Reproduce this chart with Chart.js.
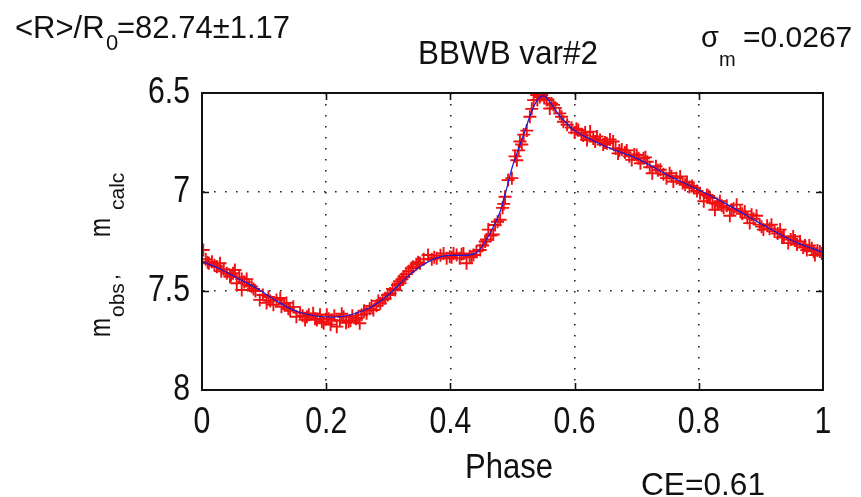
<!DOCTYPE html>
<html>
<head>
<meta charset="utf-8">
<script src="https://cdn.jsdelivr.net/npm/chart.js@4/dist/chart.umd.min.js"></script>
<style>
  html, body { margin: 0; padding: 0; background: #fff; }
  #c { display: block; }
</style>
</head>
<body>
<canvas id="c" width="861" height="497"></canvas>
<script>
// ---------------- data ----------------

// fitted light curve (blue line)
var fitPhase = [0.00, 0.03, 0.06, 0.09, 0.12, 0.15, 0.18, 0.21, 0.24, 0.27, 0.30, 0.33, 0.36, 0.38, 0.40, 0.42, 0.44,
    0.45, 0.46, 0.47, 0.48, 0.49, 0.50, 0.51, 0.52, 0.53, 0.54, 0.55, 0.56, 0.57, 0.58, 0.60, 0.62, 0.65, 0.70,
    0.75, 0.80, 0.85, 0.90, 0.95, 1.00];
var fitMag = [7.35, 7.39, 7.44, 7.49, 7.55, 7.60, 7.625, 7.632, 7.62, 7.585, 7.52, 7.43, 7.36, 7.33, 7.32, 7.32, 7.31,
    7.28, 7.23, 7.17, 7.10, 6.99, 6.87, 6.78, 6.69, 6.60, 6.535, 6.515, 6.545, 6.59, 6.63, 6.69, 6.725, 6.77, 6.83,
    6.915, 6.99, 7.07, 7.16, 7.245, 7.305];

// observed magnitudes (red crosses)
var obsPhase = [0.002, 0.006, 0.011, 0.016, 0.020, 0.024, 0.029, 0.035, 0.040, 0.045, 0.050, 0.053, 0.056, 0.060,
    0.064, 0.064, 0.068, 0.072, 0.076, 0.080, 0.086, 0.093, 0.098, 0.104, 0.110, 0.115, 0.120, 0.126, 0.128, 0.132,
    0.136, 0.142, 0.147, 0.152, 0.158, 0.162, 0.166, 0.172, 0.179, 0.182, 0.185, 0.190, 0.196, 0.201, 0.204, 0.209,
    0.213, 0.217, 0.222, 0.228, 0.232, 0.236, 0.242, 0.248, 0.254, 0.257, 0.261, 0.265, 0.270, 0.276, 0.281, 0.287,
    0.291, 0.295, 0.299, 0.303, 0.307, 0.311, 0.315, 0.319, 0.322, 0.325, 0.329, 0.333, 0.337, 0.340, 0.345, 0.351,
    0.357, 0.364, 0.370, 0.378, 0.384, 0.389, 0.394, 0.399, 0.405, 0.410, 0.415, 0.421, 0.426, 0.431, 0.437, 0.442,
    0.448, 0.452, 0.456, 0.461, 0.465, 0.469, 0.472, 0.476, 0.480, 0.484, 0.488, 0.493, 0.499, 0.504, 0.507, 0.510,
    0.512, 0.518, 0.523, 0.528, 0.534, 0.539, 0.540, 0.547, 0.551, 0.555, 0.560, 0.563, 0.569, 0.576, 0.582, 0.588,
    0.595, 0.600, 0.606, 0.611, 0.617, 0.620, 0.625, 0.630, 0.636, 0.641, 0.646, 0.652, 0.657, 0.662, 0.666, 0.670,
    0.676, 0.684, 0.688, 0.692, 0.696, 0.700, 0.706, 0.711, 0.717, 0.721, 0.725, 0.731, 0.738, 0.743, 0.748, 0.753,
    0.759, 0.764, 0.770, 0.774, 0.778, 0.785, 0.792, 0.797, 0.802, 0.808, 0.813, 0.818, 0.822, 0.826, 0.830, 0.834,
    0.840, 0.845, 0.850, 0.856, 0.861, 0.867, 0.874, 0.878, 0.882, 0.888, 0.893, 0.898, 0.904, 0.910, 0.917, 0.922,
    0.927, 0.931, 0.937, 0.944, 0.948, 0.952, 0.958, 0.963, 0.968, 0.974, 0.978, 0.982, 0.987, 0.991, 0.995, 0.998,
    // second night, same phases roughly
    0.009, 0.031, 0.047, 0.083, 0.107, 0.139, 0.169, 0.193, 0.207, 0.225, 0.239, 0.251, 0.273, 0.284, 0.318, 0.348,
    0.374, 0.402, 0.418, 0.434, 0.458, 0.486, 0.515, 0.531, 0.544, 0.566, 0.579, 0.603, 0.614, 0.633, 0.649, 0.672,
    0.681, 0.703, 0.714, 0.734, 0.756, 0.781, 0.789, 0.816, 0.837, 0.853, 0.870, 0.885, 0.901, 0.914, 0.934, 0.955,
    0.971, 0.985];
var obsMag = [7.293, 7.34, 7.36, 7.352, 7.37, 7.377, 7.36, 7.39, 7.41, 7.428, 7.41, 7.394, 7.461, 7.43,
    7.44, 7.495, 7.455, 7.44, 7.47, 7.478, 7.50, 7.545, 7.52, 7.56, 7.55, 7.57, 7.545, 7.535, 7.58, 7.565,
    7.56, 7.60, 7.58, 7.63, 7.61, 7.625, 7.646, 7.62, 7.613, 7.64, 7.646, 7.62, 7.663, 7.62, 7.64, 7.646,
    7.625, 7.68, 7.65, 7.63, 7.66, 7.655, 7.625, 7.64, 7.663, 7.62, 7.60, 7.613, 7.59, 7.596, 7.575, 7.562,
    7.545, 7.537, 7.52, 7.512, 7.49, 7.495, 7.47, 7.461, 7.44, 7.428, 7.415, 7.40, 7.385, 7.377, 7.365, 7.36,
    7.34, 7.318, 7.34, 7.335, 7.32, 7.31, 7.335, 7.327, 7.31, 7.318, 7.335, 7.31, 7.36, 7.325, 7.318, 7.30,
    7.293, 7.27, 7.25, 7.19, 7.22, 7.215, 7.167, 7.15, 7.14, 7.08, 7.024, 6.94, 6.93, 6.82, 6.84, 6.79,
    6.745, 6.71, 6.69, 6.62, 6.536, 6.51, 6.535, 6.51, 6.525, 6.535, 6.578, 6.553, 6.575, 6.603, 6.645, 6.66,
    6.675, 6.70, 6.687, 6.71, 6.70, 6.737, 6.695, 6.73, 6.72, 6.737, 6.76, 6.754, 6.735, 6.745, 6.78, 6.805,
    6.785, 6.79, 6.82, 6.838, 6.81, 6.813, 6.855, 6.83, 6.847, 6.875, 6.905, 6.87, 6.888, 6.91, 6.93, 6.905,
    6.947, 6.93, 6.922, 6.955, 6.964, 6.975, 6.98, 6.995, 7.006, 7.047, 7.015, 7.03, 7.055, 7.09, 7.06, 7.047,
    7.08, 7.07, 7.12, 7.085, 7.064, 7.10, 7.098, 7.13, 7.157, 7.135, 7.12, 7.165, 7.19, 7.17, 7.165, 7.20,
    7.21, 7.19, 7.225, 7.258, 7.24, 7.225, 7.265, 7.25, 7.28, 7.293, 7.27, 7.284, 7.318, 7.295, 7.30, 7.31,
    7.355, 7.40, 7.42, 7.49, 7.53, 7.59, 7.63, 7.655, 7.67, 7.615, 7.65, 7.635, 7.575, 7.55, 7.45, 7.355,
    7.33, 7.33, 7.315, 7.33, 7.24, 7.06, 6.76, 6.58, 6.52, 6.56, 6.62, 6.68, 6.715, 6.745, 6.75, 6.79,
    6.80, 6.83, 6.825, 6.89, 6.92, 6.95, 6.97, 7.02, 7.07, 7.09, 7.11, 7.115, 7.175, 7.185, 7.23, 7.245,
    7.27, 7.30];

var xTicks = [0, 0.2, 0.4, 0.6, 0.8, 1];
var yTicks = [6.5, 7, 7.5, 8];

// ---------------- chart ----------------

var fitPoints = fitPhase.map(function(p, i) { return {x: p, y: fitMag[i]}; });
var obsPoints = obsPhase.map(function(p, i) { return {x: p, y: obsMag[i]}; });

var SANS = '"Liberation Sans", Arial, sans-serif';
var SQUEEZE = 0.84;   // tick labels in the picture are narrower than Arial

var canvas = document.getElementById('c');
var c2d = canvas.getContext('2d');

// squeeze the 36px tick labels horizontally (no narrow font installed)
var baseFill = c2d.fillText;
c2d.fillText = function(s, x, y, w) {
    if (/\b36px/.test(this.font)) {
        this.save();
        this.translate(x, y);
        this.scale(SQUEEZE, 1);
        baseFill.call(this, s, 0, 0);
        this.restore();
    } else if (w !== undefined) {
        baseFill.call(this, s, x, y, w);
    } else {
        baseFill.call(this, s, x, y);
    }
};

function txt(ctx, s, x, y, size, maxW) {
    ctx.font = size + 'px ' + SANS;
    if (maxW) ctx.fillText(s, x, y, maxW); else ctx.fillText(s, x, y);
}

// frame, inner ticks and the text labels (MATLAB style)
var annotations = {
    id: 'annotations',
    afterDraw: function(chart) {
        var ctx = chart.ctx, a = chart.chartArea;
        var xs = chart.scales.x, ys = chart.scales.y;
        ctx.save();
        ctx.strokeStyle = '#111';
        ctx.lineWidth = 1.6;
        ctx.beginPath();
        xTicks.slice(1, -1).forEach(function(v) {
            var px = Math.round(xs.getPixelForValue(v)) + 0.5;
            ctx.moveTo(px, a.bottom); ctx.lineTo(px, a.bottom - 7);
            ctx.moveTo(px, a.top); ctx.lineTo(px, a.top + 7);
        });
        yTicks.slice(1, -1).forEach(function(v) {
            var py = Math.round(ys.getPixelForValue(v)) + 0.5;
            ctx.moveTo(a.left, py); ctx.lineTo(a.left + 7, py);
            ctx.moveTo(a.right, py); ctx.lineTo(a.right - 7, py);
        });
        ctx.stroke();
        ctx.lineWidth = 2;
        ctx.strokeRect(a.left, a.top, a.right - a.left, a.bottom - a.top);

        ctx.fillStyle = '#111';
        ctx.textBaseline = 'alphabetic';
        ctx.textAlign = 'left';
        txt(ctx, '<R>/R', 15, 38, 31);
        txt(ctx, '0', 106, 50, 22);
        txt(ctx, '=82.74\u00b11.17', 117, 38, 31, 177);
        txt(ctx, 'BBWB var#2', 418, 64, 33, 180);
        txt(ctx, '\u03c3', 701, 47, 29);
        txt(ctx, 'm', 719, 66, 20);
        txt(ctx, '=0.0267', 743, 47, 30, 113);
        txt(ctx, 'Phase', 465, 478, 35, 88);
        txt(ctx, 'CE=0.61', 641, 495, 32, 124);

        // y axis title with subscripts
        ctx.translate(110, 337);
        ctx.rotate(-Math.PI / 2);
        txt(ctx, 'm', 0, 0, 29, 19);
        txt(ctx, 'obs', 20, 14, 21, 34);
        txt(ctx, ',', 57, 8, 21);
        txt(ctx, 'm', 100, 0, 29, 19);
        txt(ctx, 'calc', 127, 14, 21, 57);
        ctx.restore();
    }
};

var gridDots = function(ctx) {
    var v = ctx.tick ? ctx.tick.value : null;
    return (ctx.index === 0 || v === 1 || v === 8) ? 'rgba(0,0,0,0)' : '#222';
};

var tickText = function(v) { return String(Math.round(v * 10) / 10); };

new Chart(c2d, {
    type: 'scatter',
    data: {
        datasets: [{
            label: 'fit',
            type: 'line',
            data: fitPoints,
            borderColor: '#1a1ad0',
            borderWidth: 1.2,
            pointRadius: 0,
            fill: false,
            cubicInterpolationMode: 'monotone'
        }, {
            label: 'obs',
            data: obsPoints,
            pointStyle: 'cross',
            pointRadius: 6.5,
            borderColor: '#f01010',
            backgroundColor: '#f01010',
            borderWidth: 1.9,
            showLine: false
        }]
    },
    options: {
        responsive: false,
        animation: false,
        devicePixelRatio: 1,
        layout: { padding: { top: 93, right: 38, left: 0, bottom: 0 } },
        plugins: {
            legend: { display: false },
            tooltip: { enabled: false }
        },
        scales: {
            x: {
                type: 'linear',
                min: 0, max: 1,
                afterBuildTicks: function(s) { s.ticks = xTicks.map(function(v) { return {value: v}; }); },
                afterFit: function(s) { s.height = 107; },
                ticks: {
                    autoSkip: false, maxRotation: 0, padding: 11,
                    color: '#111',
                    callback: tickText,
                    font: { family: SANS, size: 36 }
                },
                grid: { color: gridDots, lineWidth: 1.6, drawTicks: false },
                border: { display: true, color: '#111', width: 2, dash: [1.6, 9.4] }
            },
            y: {
                type: 'linear',
                reverse: true,
                min: 6.5, max: 8,
                afterBuildTicks: function(s) { s.ticks = yTicks.map(function(v) { return {value: v}; }); },
                afterFit: function(s) { s.width = 202; },
                ticks: {
                    autoSkip: false, padding: 12,
                    color: '#111',
                    callback: tickText,
                    font: { family: SANS, size: 36 }
                },
                grid: { color: gridDots, lineWidth: 1.6, drawTicks: false },
                border: { display: true, color: '#111', width: 2, dash: [1.6, 9.4] }
            }
        }
    },
    plugins: [annotations]
});
</script>
</body>
</html>
